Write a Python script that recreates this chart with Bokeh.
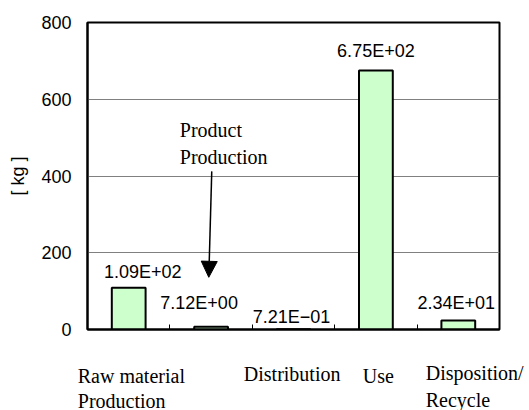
from bokeh.plotting import figure
from bokeh.models import (Range1d, FixedTicker, Label, Arrow, NormalHead,
                          ColumnDataSource)
from bokeh.core.properties import value
from bokeh.embed import file_html
from bokeh.resources import INLINE

# ---- data ----
stages = ["Raw material\nProduction", "Product\nProduction", "Distribution",
          "Use", "Disposition/\nRecycle"]
values = [109.0, 7.12, 0.721, 675.0, 23.4]
value_labels = ["1.09E+02", "7.12E+00", "7.21E\u221201", "6.75E+02", "2.34E+01"]
y_ticks = [0, 200, 400, 600, 800]

# label placement tweaks (screen px)
lab_dx = [14, -12, -2, 0, -2]
lab_dy = [-16, -24, -12, -19, -18]

xs = [i + 0.5 for i in range(len(values))]

W = 529
FRAME_L, FRAME_R = 87, 499
MAIN_H = 345

p = figure(width=W, height=MAIN_H, output_backend="svg", toolbar_location=None,
           x_range=Range1d(0, 5), y_range=Range1d(0, 800),
           min_border_left=FRAME_L, min_border_right=W - FRAME_R,
           min_border_top=22, min_border_bottom=16)
p.background_fill_color = "white"
p.border_fill_color = "white"
p.outline_line_color = "black"
p.outline_line_width = 2

# grid
p.xgrid.grid_line_color = None
p.ygrid.grid_line_color = "#808080"
p.ygrid.grid_line_width = 1
p.yaxis.ticker = FixedTicker(ticks=y_ticks)
p.xaxis.ticker = FixedTicker(ticks=[1, 2, 3, 4])

# axes styling
p.yaxis.axis_line_color = "black"
p.yaxis.axis_line_width = 2
p.yaxis.major_tick_in = 0
p.yaxis.major_tick_out = 0
p.yaxis.minor_tick_line_color = None
p.yaxis.major_label_text_font = "Liberation Sans"
p.yaxis.major_label_text_font_size = "18px"
p.yaxis.major_label_text_color = "black"
p.yaxis.major_label_standoff = 16
p.yaxis.axis_label = "[ kg ]"
p.yaxis.axis_label_text_font = "Liberation Sans"
p.yaxis.axis_label_text_font_style = "normal"
p.yaxis.axis_label_text_font_size = "18px"
p.yaxis.axis_label_text_color = "black"
p.yaxis.axis_label_standoff = 10

p.xaxis.axis_line_color = "black"
p.xaxis.axis_line_width = 2
p.xaxis.major_tick_in = 5
p.xaxis.major_tick_out = 0
p.xaxis.major_tick_line_color = "black"
p.xaxis.major_tick_line_width = 1
p.xaxis.minor_tick_line_color = None
p.xaxis.major_label_text_font_size = "0px"
p.xaxis.major_label_standoff = 0

# bars
src = ColumnDataSource(dict(x=xs, top=values, lab=value_labels,
                            dx=lab_dx, dy=lab_dy))
p.vbar(x="x", top="top", bottom=0, width=0.41, source=src,
       fill_color="#CCFFCC", line_color="black", line_width=2)

p.text(x="x", y="top", text="lab", source=src, x_offset="dx", y_offset="dy",
       text_font=value("Liberation Sans"), text_font_size="18px",
       text_align="center", text_baseline="alphabetic", text_color="black")

# annotation
for txt, y in [("Product", 520), ("Production", 450)]:
    p.add_layout(Label(x=1.12, y=y, text=txt, text_font="Liberation Serif",
                       text_font_size="20px", text_align="left",
                       text_baseline="alphabetic", text_color="black"))
p.add_layout(Arrow(end=NormalHead(size=16, fill_color="black",
                                  line_color="black"),
                   x_start=1.508, y_start=412, x_end=1.472, y_end=136,
                   line_color="black", line_width=1.5))

# ---- category label strip below (same x scale as the main chart) ----
BOT_H = 410 - MAIN_H
px_per_unit = (FRAME_R - FRAME_L) / 5.0
x0 = -FRAME_L / px_per_unit
x1 = 5 + (W - FRAME_R) / px_per_unit
q = figure(width=W, height=BOT_H, output_backend="svg", toolbar_location=None,
           x_range=Range1d(x0, x1), y_range=Range1d(0, BOT_H),
           x_axis_type=None, y_axis_type=None,
           min_border_left=0, min_border_right=0, min_border_top=0,
           min_border_bottom=0)
q.outline_line_color = None
q.grid.grid_line_color = None
q.background_fill_color = "white"
q.border_fill_color = "white"

cat_text = ["Raw material", "Production", "Distribution", "Use",
            "Disposition/", "Recycle"]
cat_x = [-0.118, -0.118, 1.897, 3.34, 4.105, 4.105]
cat_y = [35, 10, 37, 35, 38, 11]
q.text(x=cat_x, y=cat_y, text=cat_text,
       text_font=value("Liberation Serif"), text_font_size="20px",
       text_align="left", text_baseline="alphabetic", text_color="black")

open("out.html", "w").write(file_html([p, q], INLINE))
